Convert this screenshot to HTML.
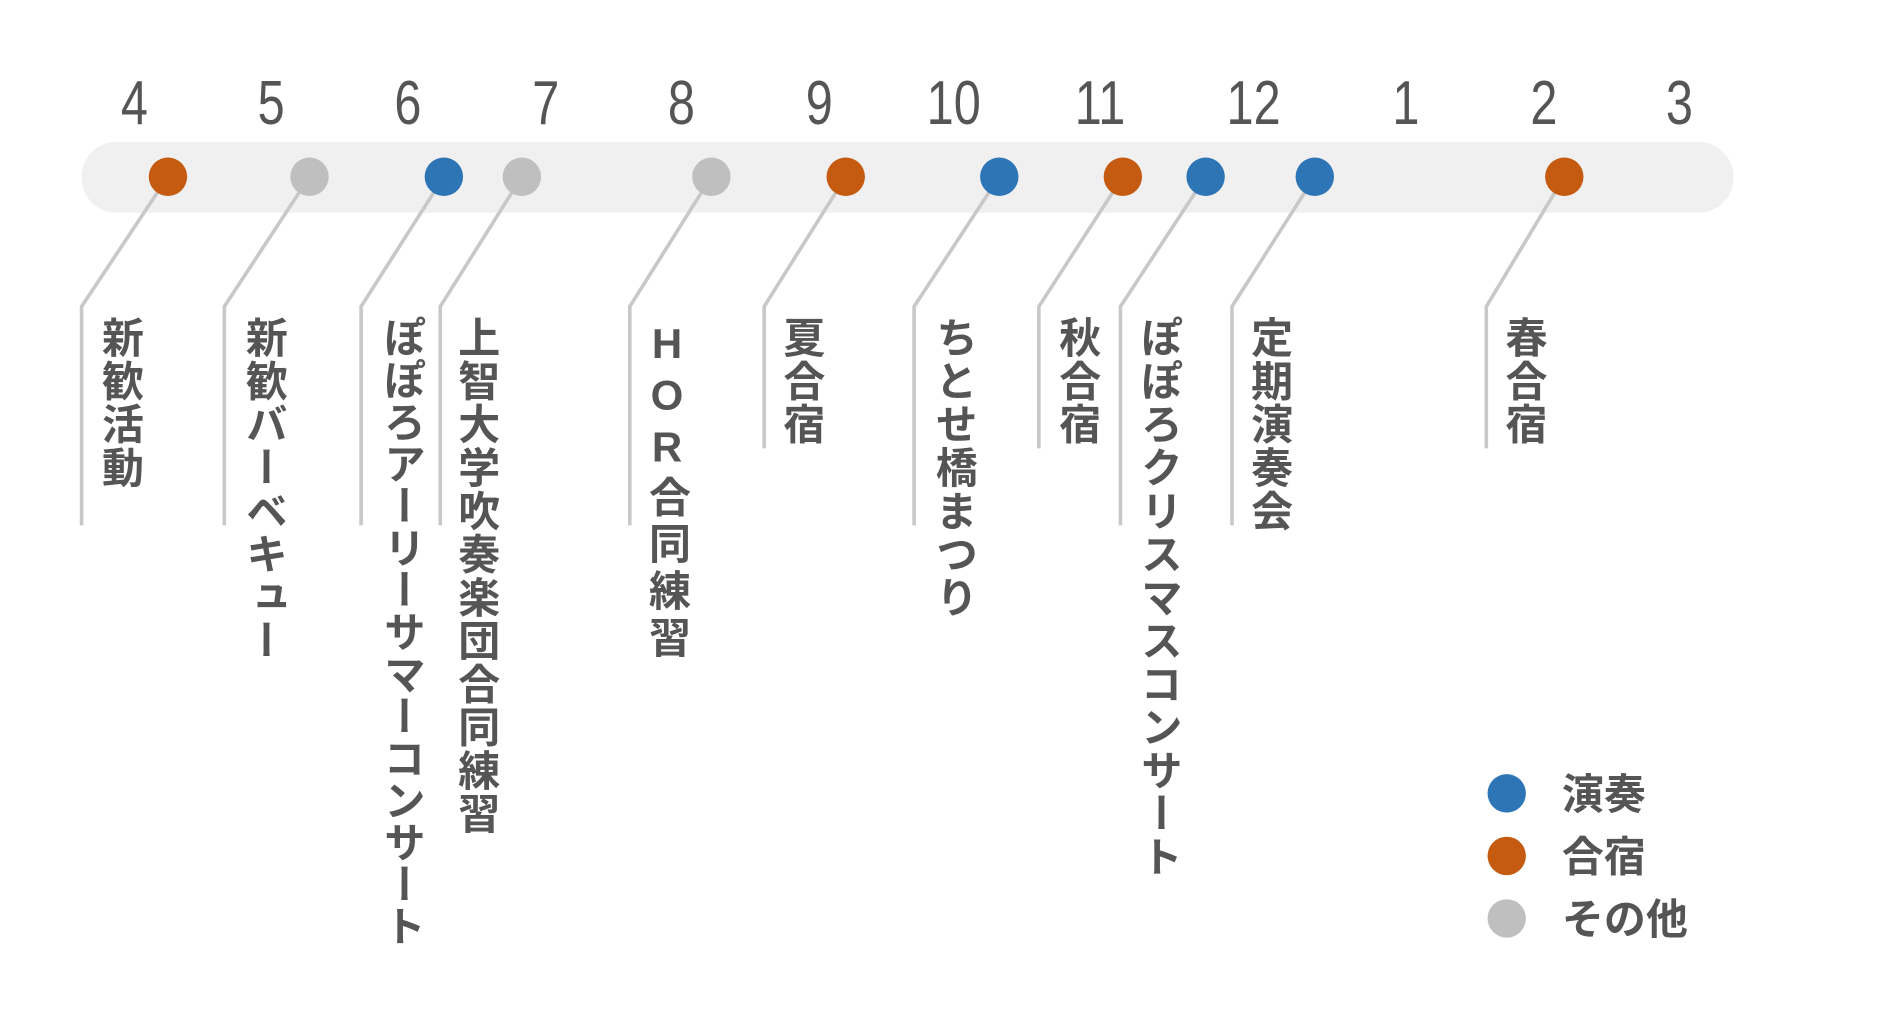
<!DOCTYPE html>
<html><head><meta charset="utf-8"><style>
html,body{margin:0;padding:0;background:#fff;width:1881px;height:1011px;overflow:hidden}
svg{display:block}
.n{font-family:"Liberation Sans Narrow","Liberation Sans",sans-serif;font-size:52px;fill:#555;text-anchor:middle}
.v{font-family:"Liberation Sans","Noto Sans CJK JP",sans-serif;font-size:35px;font-weight:bold;fill:#555;writing-mode:vertical-rl;text-orientation:upright;letter-spacing:1px}
.l{font-family:"Liberation Sans","Noto Sans CJK JP",sans-serif;font-size:35px;font-weight:bold;fill:#555}
line,polyline{stroke:#c8c8c8;stroke-width:3;fill:none}
</style></head><body>
<svg width="1881" height="1011" viewBox="0 0 1568 841" preserveAspectRatio="none">
<rect x="0" y="0" width="1568" height="841" fill="#fff"/>
<g class="n">
<text transform="translate(112,103) scale(0.78,1)">4</text>
<text transform="translate(226,103) scale(0.78,1)">5</text>
<text transform="translate(340,103) scale(0.78,1)">6</text>
<text transform="translate(455,103) scale(0.78,1)">7</text>
<text transform="translate(568,103) scale(0.78,1)">8</text>
<text transform="translate(683,103) scale(0.78,1)">9</text>
<text transform="translate(795,103) scale(0.78,1)">10</text>
<text transform="translate(917,103) scale(0.78,1)">11</text>
<text transform="translate(1045,103) scale(0.78,1)">12</text>
<text transform="translate(1172,103) scale(0.78,1)">1</text>
<text transform="translate(1287,103) scale(0.78,1)">2</text>
<text transform="translate(1400,103) scale(0.78,1)">3</text>
</g>
<rect x="68" y="118" width="1377" height="59" rx="29" fill="#f0f0f0"/>
<polyline points="140,147 68,255 68,437"/>
<polyline points="258,147 187,255 187,437"/>
<polyline points="370,147 301,255 301,437"/>
<polyline points="435,147 367,255 367,437"/>
<polyline points="593,147 525,255 525,437"/>
<polyline points="705,147 637,255 637,373"/>
<polyline points="833,147 762,255 762,437"/>
<polyline points="936,147 866,255 866,373"/>
<polyline points="1005,147 934,255 934,437"/>
<polyline points="1096,147 1027,255 1027,437"/>
<polyline points="1304,147 1239,255 1239,373"/>
<g>
<circle cx="140" cy="147" r="16" fill="#c55a11"/>
<circle cx="258" cy="147" r="16" fill="#bfbfbf"/>
<circle cx="370" cy="147" r="16" fill="#2e75b6"/>
<circle cx="435" cy="147" r="16" fill="#bfbfbf"/>
<circle cx="593" cy="147" r="16" fill="#bfbfbf"/>
<circle cx="705" cy="147" r="16" fill="#c55a11"/>
<circle cx="833" cy="147" r="16" fill="#2e75b6"/>
<circle cx="936" cy="147" r="16" fill="#c55a11"/>
<circle cx="1005" cy="147" r="16" fill="#2e75b6"/>
<circle cx="1096" cy="147" r="16" fill="#2e75b6"/>
<circle cx="1304" cy="147" r="16" fill="#c55a11"/>
</g>
<g class="v">
<text x="100" y="263">新歓活動</text>
<text x="220" y="263">新歓バーベキュー</text>
<text x="335" y="263" style="letter-spacing:0">ぽぽろアーリーサマーコンサート</text>
<text x="397" y="263">上智大学吹奏楽団合同練習</text>
<text x="556" y="266" style="letter-spacing:4px">HOR合同練習</text>
<text x="668" y="263">夏合宿</text>
<text x="795" y="263">ちとせ橋まつり</text>
<text x="898" y="263">秋合宿</text>
<text x="966" y="263">ぽぽろクリスマスコンサート</text>
<text x="1058" y="263">定期演奏会</text>
<text x="1270" y="263">春合宿</text>
</g>
<circle cx="1256" cy="660" r="16" fill="#2e75b6"/>
<circle cx="1256" cy="712" r="16" fill="#c55a11"/>
<circle cx="1256" cy="764" r="16" fill="#bfbfbf"/>
<text class="l" x="1302" y="673">演奏</text>
<text class="l" x="1302" y="725">合宿</text>
<text class="l" x="1302" y="777">その他</text>
</svg>
</body></html>
